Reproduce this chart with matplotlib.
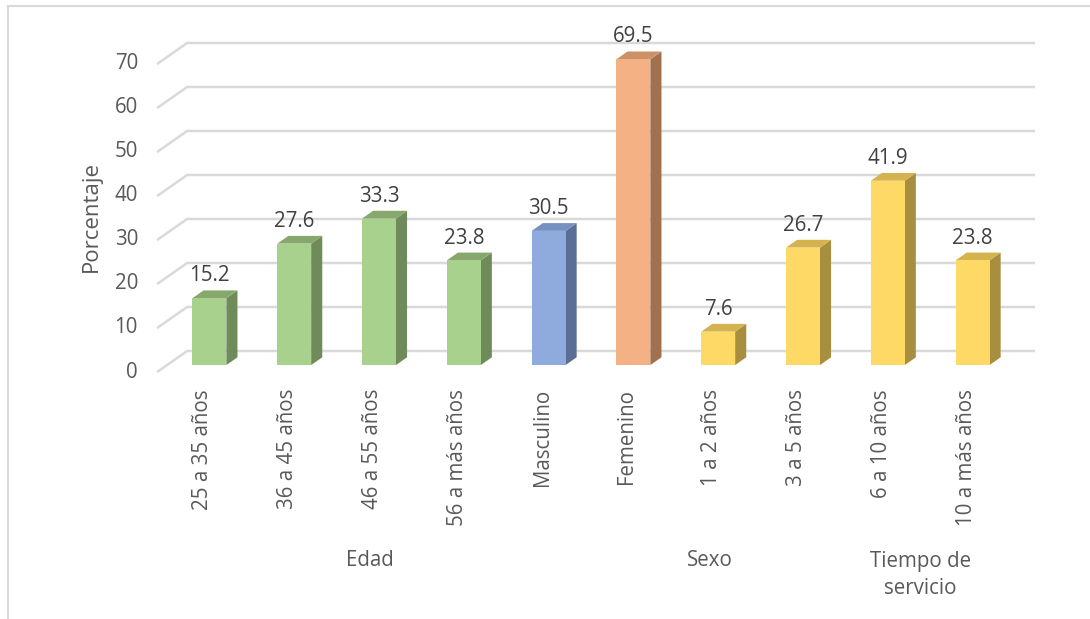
import matplotlib
matplotlib.use('Agg')
import matplotlib.pyplot as plt
from matplotlib.patches import Polygon
from matplotlib.lines import Line2D

# data
categorias = ['25 a 35 años', '36 a 45 años', '46 a 55 años', '56 a más años',
              'Masculino', 'Femenino',
              '1 a 2 años', '3 a 5 años', '6 a 10 años', '10 a más años']
valores = [15.2, 27.6, 33.3, 23.8, 30.5, 69.5, 7.6, 26.7, 41.9, 23.8]
grupo = ['edad', 'edad', 'edad', 'edad', 'masc', 'fem',
         'serv', 'serv', 'serv', 'serv']
grupos_txt = ['Edad', 'Sexo', 'Tiempo de\nservicio']
grupos_pos = [2.01, 6.02, 8.5]
yticks = [0, 10, 20, 30, 40, 50, 60, 70]

# (front, side, top)
colores = {
    'edad': ('#A9D18E', '#6E8B59', '#86A86C'),
    'masc': ('#8FAADC', '#5B6E95', '#7690C2'),
    'fem':  ('#F4B183', '#A0704F', '#CC9166'),
    'serv': ('#FFD966', '#A88F3F', '#D4B34E'),
}

plt.rcParams['font.family'] = ['Open Sans', 'DejaVu Sans']
fs = 14.8

W, H = 1090, 619
fig = plt.figure(figsize=(W / 100, H / 100), dpi=100)
ax = fig.add_axes([0, 0, 1, 1])

# pixel mapping: x index 0 -> 199.5 px, 84.8 px per category
# value 0 (front plane) -> 372 px, 4.4 px per unit
x0, sx = 199.5, 84.8
y0, sy = 372.0, 4.4
ax.set_xlim(-x0 / sx, (W - x0) / sx)
ax.set_ylim((y0 - H) / sy, y0 / sy)
ax.axis('off')

DX = 30 / sx   # depth shift in x
DY = 21 / sy   # depth shift in y
XR = (1035 - x0) / sx

grid_c = '#D9D9D9'
for v in yticks:
    ax.plot([-0.5, -0.5 + DX, XR], [v, v + DY, v + DY], color=grid_c, lw=1.8,
            solid_capstyle='butt', zorder=1)
    ax.text((138 - x0) / sx, v, str(v), ha='right', va='center',
            fontsize=fs, color='#595959')

d0, d1 = 0.33, 0.7
hw = 0.2
for i, (v, g) in enumerate(zip(valores, grupo)):
    cf, cs, ct = colores[g]
    xl0 = i - hw + d0 * DX
    xr0 = i + hw + d0 * DX
    xl1 = i - hw + d1 * DX
    xr1 = i + hw + d1 * DX
    b0, b1 = d0 * DY, d1 * DY
    t0, t1 = v + d0 * DY, v + d1 * DY
    ax.add_patch(Polygon([(xr0, b0), (xr1, b1), (xr1, t1), (xr0, t0)],
                         closed=True, fc=cs, ec='none', zorder=3))
    ax.add_patch(Polygon([(xl0, t0), (xr0, t0), (xr1, t1), (xl1, t1)],
                         closed=True, fc=ct, ec='none', zorder=3))
    ax.add_patch(Polygon([(xl0, b0), (xr0, b0), (xr0, t0), (xl0, t0)],
                         closed=True, fc=cf, ec='none', zorder=4))
    ax.text((xl0 + xr0) / 2, t1 + 3.3, '%.1f' % v, ha='center', va='center',
            fontsize=fs, color='#404040', zorder=5)
    ax.text(i + 0.04, (y0 - 389) / sy, categorias[i], rotation=90,
            ha='center', va='top', fontsize=fs, color='#595959')

for txt, pos in zip(grupos_txt, grupos_pos):
    yc = 575 if '\n' in txt else 560
    ax.text(pos, (y0 - yc) / sy, txt, ha='center', va='center',
            fontsize=fs, color='#595959', linespacing=1.4)

ax.text((91 - x0) / sx, (y0 - 217) / sy, 'Porcentaje', rotation=90,
        ha='center', va='center', fontsize=16, color='#595959')

# chart frame (only top and left visible)
fig.add_artist(Line2D([8 / W, 1], [1 - 6 / H, 1 - 6 / H], color=grid_c, lw=1.5))
fig.add_artist(Line2D([8 / W, 8 / W], [0, 1 - 6 / H], color=grid_c, lw=1.5))

fig.savefig('out.png', dpi=100, facecolor='white')
